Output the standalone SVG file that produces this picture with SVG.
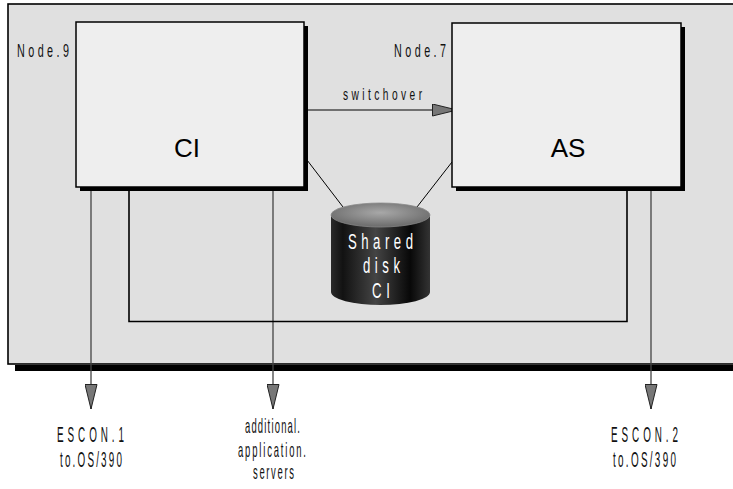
<svg xmlns="http://www.w3.org/2000/svg" width="733" height="489" viewBox="0 0 733 489">
<style>
.narrow{font-family:"Liberation Sans",Arial,sans-serif;fill:#111}
.white{fill:#fff}
.big{font-family:"Liberation Sans",Arial,sans-serif;font-size:26px;fill:#000}
.box{fill:#eeeeee;stroke:#000;stroke-width:1.5}
.shadow{fill:#000}
.gline{stroke:#444;stroke-width:1.3;fill:none}
.bline{stroke:#000;stroke-width:1.6;fill:none}
.thin{stroke:#000;stroke-width:1;fill:none}
</style>
<defs>
<marker id="arr" viewBox="0 0 26 13" refX="25" refY="6.5" markerWidth="26" markerHeight="13" markerUnits="userSpaceOnUse" orient="auto">
<path d="M0.5,0.5 L25,6.5 L0.5,12.5 z" fill="#777" stroke="#222" stroke-width="1"/>
</marker>
<linearGradient id="body" x1="0" y1="0" x2="1" y2="0">
<stop offset="0" stop-color="#2a2a2a"/>
<stop offset="0.12" stop-color="#121212"/>
<stop offset="0.45" stop-color="#444"/>
<stop offset="0.8" stop-color="#080808"/>
<stop offset="1" stop-color="#333"/>
</linearGradient>
<radialGradient id="top" cx="0.5" cy="0.4" r="0.6">
<stop offset="0" stop-color="#a8a8a8"/>
<stop offset="1" stop-color="#6a6a6a"/>
</radialGradient>
</defs>

<g id="frame">
<rect x="15" y="365" width="725" height="6" class="shadow"/>
<rect x="8" y="4" width="740" height="360" fill="#e0e0e0" stroke="#000" stroke-width="1.6"/>
</g>

<g id="connectors">
<line x1="91" y1="191" x2="91" y2="409" class="gline" marker-end="url(#arr)"/>
<line x1="273" y1="191" x2="273" y2="409" class="gline" marker-end="url(#arr)"/>
<line x1="651" y1="191" x2="651" y2="409" class="gline" marker-end="url(#arr)"/>
<polyline points="129,191 129,321.5 627,321.5 627,191" class="bline"/>
<line x1="307" y1="160" x2="343" y2="207" class="thin"/>
<line x1="452" y1="162" x2="417" y2="207" class="thin"/>
<line x1="306" y1="110" x2="457" y2="110" class="thin" marker-end="url(#arr)"/>
<g transform="scale(0.6 1)">
<text x="571.7" y="100" class="narrow" font-size="17" textLength="131.7" lengthAdjust="spacing">switchover</text>
</g>
</g>

<g id="node-ci">
<rect x="80" y="26" width="228" height="165" class="shadow"/>
<rect x="76" y="22" width="228" height="165" class="box"/>
<g transform="scale(0.6 1)">
<text x="28.3" y="57" class="narrow" font-size="18" textLength="86.7" lengthAdjust="spacing">Node.9</text>
</g>
<text x="187" y="157" class="big" text-anchor="middle">CI</text>
</g>

<g id="node-as">
<rect x="456" y="27" width="229" height="164" class="shadow"/>
<rect x="452" y="23" width="229" height="164" class="box"/>
<g transform="scale(0.6 1)">
<text x="656.7" y="57" class="narrow" font-size="18" textLength="86.7" lengthAdjust="spacing">Node.7</text>
</g>
<text x="568" y="157" class="big" text-anchor="middle">AS</text>
</g>

<g id="disk">
<path d="M331,215 L331,292 A49.5,13 0 0 0 430,292 L430,215 Z" fill="url(#body)"/>
<ellipse cx="380.5" cy="215" rx="49.5" ry="12" fill="url(#top)" stroke="#888" stroke-width="0.8"/>
<g transform="scale(0.6 1)">
<text x="580" y="249" class="narrow white" font-size="22" textLength="108.3" lengthAdjust="spacing">Shared</text>
<text x="605" y="273" class="narrow white" font-size="22" textLength="61.7" lengthAdjust="spacing">disk</text>
<text x="620" y="298" class="narrow white" font-size="22" textLength="30" lengthAdjust="spacing">CI</text>
</g>
</g>

<g id="escon1" transform="scale(0.45 1)">
<text x="126.7" y="442" class="narrow" font-size="22" textLength="148.9" lengthAdjust="spacing">ESCON.1</text>
<text x="133.3" y="467" class="narrow" font-size="22" textLength="137.8" lengthAdjust="spacing">to.OS/390</text>
</g>

<g id="appservers" transform="scale(0.45 1)">
<text x="544.4" y="433" class="narrow" font-size="21" textLength="122.2" lengthAdjust="spacing">additional.</text>
<text x="528.9" y="457" class="narrow" font-size="21" textLength="151.1" lengthAdjust="spacing">application.</text>
<text x="562.2" y="479" class="narrow" font-size="21" textLength="91.1" lengthAdjust="spacing">servers</text>
</g>

<g id="escon2" transform="scale(0.45 1)">
<text x="1357.8" y="442" class="narrow" font-size="22" textLength="148.9" lengthAdjust="spacing">ESCON.2</text>
<text x="1362.2" y="467" class="narrow" font-size="22" textLength="140" lengthAdjust="spacing">to.OS/390</text>
</g>
</svg>
